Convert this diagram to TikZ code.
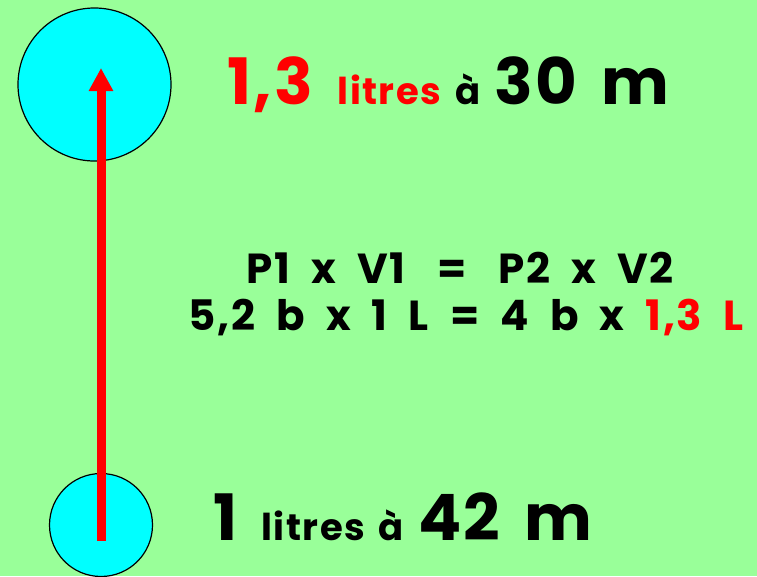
\documentclass[tikz,border=0pt]{standalone}
\usepackage{fontspec}
\setmainfont{Poppins}[LetterSpace=4, WordSpace=1.5]
\newfontfamily\eqfont{Poppins}[LetterSpace=4, WordSpace=2.0]
\usetikzlibrary{arrows.meta, positioning}
\definecolor{bgcol}{HTML}{99FF99}
\definecolor{bubblecol}{HTML}{00FFFF}
\definecolor{redcol}{HTML}{FF0000}
\newcommand{\bigsz}{\fontsize{64}{68}\selectfont}
\newcommand{\midsz}{\fontsize{42}{46}\selectfont}
\newcommand{\smlsz}{\fontsize{37}{40}\selectfont}

\begin{document}
\begin{tikzpicture}[x=1pt, y=-1pt,
  bubble/.style={circle, draw, line width=1.2pt, fill=bubblecol, inner sep=0pt},
  rise/.style={-{Triangle[length=23pt, width=23pt]}, line width=9pt, draw=redcol},
  lbl/.style={font=\bfseries, inner sep=0pt, anchor=base west},
  eq/.style={font=\eqfont\bfseries\midsz, inner sep=0pt, anchor=base},
]

% page
\fill[bgcol] (0,0) rectangle (757,576);
\useasboundingbox (0,0) rectangle (757,576);

% bubbles
\node[bubble, minimum size=153pt] (high) at (94.5,84.5) {};
\node[bubble, minimum size=103pt] (low) at (101,525) {};

% the rising arrow
\coordinate (tail) at (101,541);
\coordinate (tip) at (101,68);
\draw[rise] (tail) -- (tip);

% depth labels
\node[lbl, text=redcol] (vol2) at (227,104) {\bigsz 1,3 \smlsz litres};
\node[lbl] (depth2) at (vol2.base east) {\smlsz\ à \bigsz 30 m};
\node[lbl] (vol1) at (213,540) {\bigsz 1 \smlsz litres à \bigsz 42 m};

% Boyle-Mariotte
\node[eq] (law) at (460,283) {P1 x V1\hspace{32pt}=\hspace{32pt}P2 x V2};
\node[eq] (calc) at (466,330) {5,2 b x 1 L = 4 b x \textcolor{redcol}{1,3 L}};

\end{tikzpicture}
\end{document}
